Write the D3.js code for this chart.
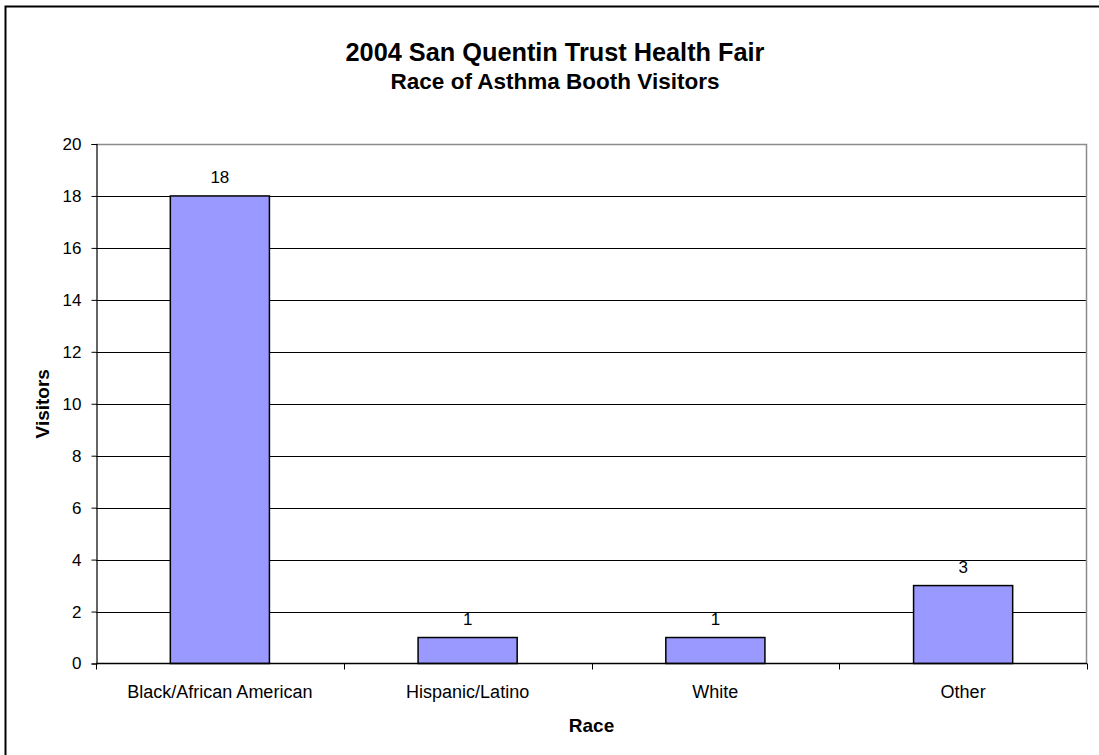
<!DOCTYPE html>
<html>
<head>
<meta charset="utf-8">
<script src="https://cdn.jsdelivr.net/npm/d3@7"></script>
<style>
  html, body { margin: 0; padding: 0; background: #fff; }
  svg { display: block; font-family: Arial, "Liberation Sans", sans-serif; }
</style>
</head>
<body>
<svg id="chart" width="1099" height="755"></svg>
<script>
// Visitors to the asthma booth, grouped by race
const categories = ["Black/African American", "Hispanic/Latino", "White", "Other"];
const visitors = [18, 1, 1, 3];
const yTicks = [0, 2, 4, 6, 8, 10, 12, 14, 16, 18, 20];

const titleText = "2004 San Quentin Trust Health Fair";
const subtitleText = "Race of Asthma Booth Visitors";
const xTitle = "Race";
const yTitle = "Visitors";

const svg = d3.select("#chart");
const W = 1099, H = 755;
const plot = { left: 96, right: 1087, top: 144, bottom: 663.5 };
const FONT = "Arial, 'Liberation Sans', sans-serif";

// outer chart frame
svg.append("rect")
  .attr("x", 5.5).attr("y", 6.5)
  .attr("width", W + 10).attr("height", H + 10)
  .attr("fill", "#fff").attr("stroke", "#000").attr("stroke-width", 2);

const x = d3.scaleBand()
  .domain(categories)
  .range([plot.left, plot.right])
  .paddingInner(0.6)
  .paddingOuter(0.3);

const y = d3.scaleLinear()
  .domain([0, 20])
  .range([plot.bottom, plot.top]);

// horizontal gridlines
svg.append("g")
  .selectAll("line")
  .data(yTicks.filter(t => t > 0 && t < 20))
  .join("line")
  .attr("x1", plot.left).attr("x2", plot.right)
  .attr("y1", d => Math.round(y(d)) + 0.5).attr("y2", d => Math.round(y(d)) + 0.5)
  .attr("stroke", "#000").attr("stroke-width", 1);

// plot area frame: grey top and right edges
svg.append("path")
  .attr("d", `M${plot.left},${plot.top + 0.5}H${plot.right - 0.5}V${plot.bottom}`)
  .attr("fill", "none").attr("stroke", "#8c8c8c").attr("stroke-width", 1.5);

const rows = categories.map((c, i) => ({ c, v: visitors[i] }));

// bars
svg.append("g")
  .selectAll("rect")
  .data(rows)
  .join("rect")
  .attr("x", d => x(d.c))
  .attr("y", d => y(d.v))
  .attr("width", x.bandwidth())
  .attr("height", d => y(0) - y(d.v))
  .attr("fill", "#9999ff")
  .attr("stroke", "#000").attr("stroke-width", 1.5);

// value labels
svg.append("g")
  .selectAll("text")
  .data(rows)
  .join("text")
  .attr("x", d => x(d.c) + x.bandwidth() / 2)
  .attr("y", d => y(d.v) - 13)
  .attr("text-anchor", "middle")
  .attr("font-size", 17)
  .attr("fill", "#000")
  .text(d => d.v);

// y axis
const yAxis = d3.axisLeft(y)
  .tickValues(yTicks)
  .tickSize(5)
  .tickPadding(10)
  .tickFormat(d3.format("d"));
const gy = svg.append("g")
  .attr("transform", `translate(${plot.left + 0.5},0)`)
  .call(yAxis);
gy.select(".domain").attr("stroke", "#000").attr("stroke-width", 1.2);
gy.selectAll(".tick line").attr("stroke", "#000");
gy.selectAll(".tick text")
  .attr("font-size", 17).attr("font-family", FONT).attr("fill", "#000");

// x axis with ticks on category boundaries
const gx = svg.append("g")
  .attr("transform", `translate(0,${plot.bottom})`);
gx.append("line")
  .attr("x1", plot.left).attr("x2", plot.right)
  .attr("stroke", "#000").attr("stroke-width", 1.5);
const step = x.step();
const boundaries = d3.range(categories.length + 1).map(i => plot.left + i * step);
gx.selectAll("line.tick")
  .data(boundaries)
  .join("line")
  .attr("class", "tick")
  .attr("x1", d => Math.round(d) + 0.5).attr("x2", d => Math.round(d) + 0.5)
  .attr("y1", 0).attr("y2", 6)
  .attr("stroke", "#000");
gx.selectAll("text")
  .data(categories)
  .join("text")
  .attr("x", d => x(d) + x.bandwidth() / 2)
  .attr("y", 34)
  .attr("text-anchor", "middle")
  .attr("font-size", 18)
  .attr("fill", "#000")
  .text(d => d);

// axis titles
svg.append("text")
  .attr("x", (plot.left + plot.right) / 2)
  .attr("y", 732)
  .attr("text-anchor", "middle")
  .attr("font-size", 19).attr("font-weight", "bold")
  .text(xTitle);

svg.append("text")
  .attr("transform", `translate(49,${(plot.top + plot.bottom) / 2}) rotate(-90)`)
  .attr("text-anchor", "middle")
  .attr("font-size", 19).attr("font-weight", "bold")
  .text(yTitle);

// chart titles
svg.append("text")
  .attr("x", 555).attr("y", 61)
  .attr("text-anchor", "middle")
  .attr("font-size", 25.3).attr("font-weight", "bold")
  .text(titleText);
svg.append("text")
  .attr("x", 555).attr("y", 89)
  .attr("text-anchor", "middle")
  .attr("font-size", 22.5).attr("font-weight", "bold")
  .text(subtitleText);
</script>
</body>
</html>
